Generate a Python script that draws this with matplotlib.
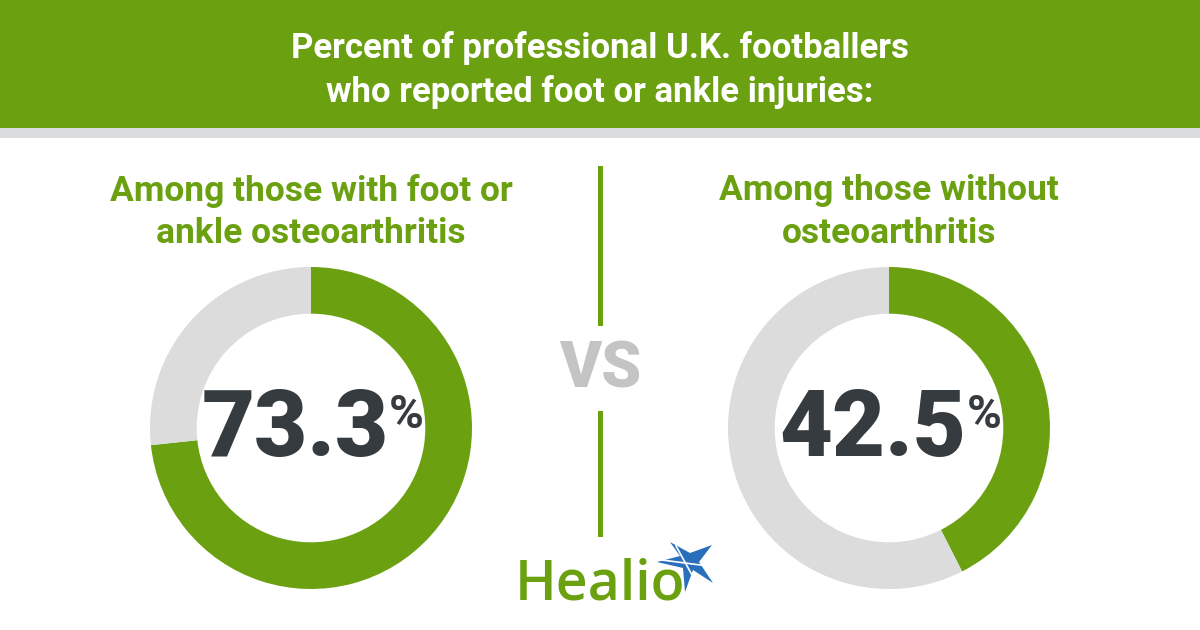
import matplotlib
matplotlib.use("Agg")
import matplotlib.pyplot as plt
from matplotlib.patches import Rectangle, Polygon
from matplotlib.lines import Line2D

# Data
groups = ["Among those with foot or\nankle osteoarthritis", "Among those without\nosteoarthritis"]
injury_pct = [73.3, 42.5]
title = "Percent of professional U.K. footballers\nwho reported foot or ankle injuries:"

GREEN = "#6ba111"
RING_GRAY = "#dcdcdc"
DARK = "#353b3e"
VS_GRAY = "#c4c4c4"
BLUE = "#2a6fbb"

W, H = 1200, 630
fig = plt.figure(figsize=(W / 100, H / 100), dpi=100)
fig.patch.set_facecolor("white")

def fx(px):
    return px / W

def fy(py):
    return 1 - py / H

head_font = ["Roboto", "DejaVu Sans"]

# Header band
fig.patches.append(Rectangle((0, fy(128)), 1, 128 / H, transform=fig.transFigure,
                             facecolor=GREEN, edgecolor="none", zorder=0))
fig.patches.append(Rectangle((0, fy(138)), 1, 10 / H, transform=fig.transFigure,
                             facecolor="#d9dcdc", edgecolor="none", zorder=0))
fig.text(0.5, fy(70), title, ha="center", va="center", color="white",
         fontsize=25, fontweight="bold", family=head_font, linespacing=1.35)

# Donuts
centers = [(311, 428), (889, 428)]
R = 161
for (cx, cy), pct, label in zip(centers, injury_pct, groups):
    ax = fig.add_axes([fx(cx - R), fy(cy + R), 2 * R / W, 2 * R / H])
    ax.pie([pct, 100 - pct], colors=[GREEN, RING_GRAY], startangle=90,
           counterclock=False, radius=1.0,
           wedgeprops=dict(width=0.29, edgecolor="none"))
    ax.set_xlim(-1, 1)
    ax.set_ylim(-1, 1)
    ax.set_aspect("equal")
    ax.axis("off")

    num = fig.text(fx(cx - 16), fy(cy + 3), f"{pct:.1f}", ha="center", va="center",
                   color=DARK, fontsize=66, fontweight="black", family="Roboto")
    fig.canvas.draw()
    plt.annotate("%", xy=(1.0, 0.93), xycoords=num, ha="left", va="top",
                 color=DARK, fontsize=34, fontweight="bold", family="Roboto",
                 annotation_clip=False)

    fig.text(fx(cx), fy(212), label, ha="center", va="center", color=GREEN,
             fontsize=25.5, fontweight="bold", family=head_font, linespacing=1.35)

# Divider with "VS"
fig.add_artist(Line2D([0.5, 0.5], [fy(168), fy(323)], color=GREEN, lw=3.6,
                      transform=fig.transFigure))
fig.add_artist(Line2D([0.5, 0.5], [fy(413), fy(534)], color=GREEN, lw=3.6,
                      transform=fig.transFigure))
fig.text(0.5, fy(370), "VS", ha="center", va="center", color=VS_GRAY,
         fontsize=46, fontweight="black", family="Roboto")

# Healio wordmark
fig.text(fx(515), fy(600), "Healio", ha="left", va="baseline", color=GREEN,
         fontsize=40, fontweight="semibold", family="Open Sans")
star = [(657, 562), (680, 556), (670, 542), (690, 553), (712, 545),
        (699, 562), (713, 583), (693, 570), (685, 592), (683, 568)]
fig.patches.append(Polygon([(fx(x), fy(y)) for x, y in star], closed=True,
                           transform=fig.transFigure, facecolor=BLUE,
                           edgecolor="none"))
fig.add_artist(Line2D([fx(662), fx(708)], [fy(560), fy(566)], color="white",
                      lw=1.2, transform=fig.transFigure))
fig.add_artist(Line2D([fx(676), fx(697)], [fy(546), fy(584)], color="white",
                      lw=1.2, transform=fig.transFigure))

fig.savefig("out.png", dpi=100, facecolor="white")
